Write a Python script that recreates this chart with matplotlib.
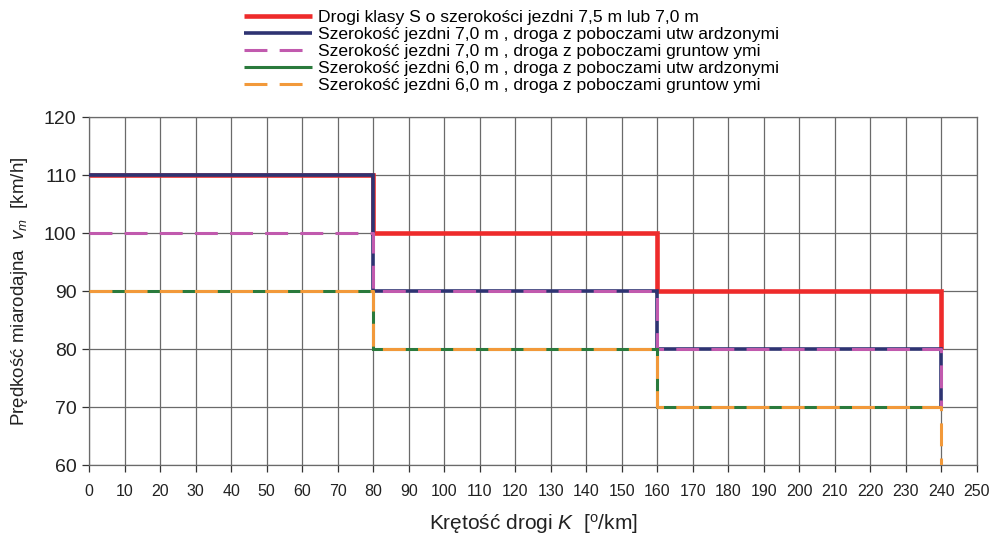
import matplotlib
matplotlib.use("Agg")
import matplotlib.pyplot as plt

plt.rcParams['font.family'] = ['Liberation Sans', 'DejaVu Sans']
plt.rcParams['mathtext.fontset'] = 'custom'
plt.rcParams['mathtext.it'] = 'Liberation Sans:italic'
plt.rcParams['mathtext.rm'] = 'Liberation Sans'

# Data
breaks = [0, 80, 160, 240]
labels = [
    "Drogi klasy S o szerokości jezdni 7,5 m lub 7,0 m",
    "Szerokość jezdni 7,0 m , droga z poboczami utw ardzonymi",
    "Szerokość jezdni 7,0 m , droga z poboczami gruntow ymi",
    "Szerokość jezdni 6,0 m , droga z poboczami utw ardzonymi",
    "Szerokość jezdni 6,0 m , droga z poboczami gruntow ymi",
]
speed_S = [110, 100, 90]
end_S = 80
speed_70_paved = [110, 90, 80]
end_70_paved = 70
speed_70_soft = [100, 90, 80]
end_70_soft = 70
speed_60_paved = [90, 80, 70]
end_60_paved = 70
speed_60_soft = [90, 80, 70]
end_60_soft = 60

x_ticks = list(range(0, 251, 10))
y_ticks = list(range(60, 121, 10))

def step_xy(levels, end):
    xs, ys = [], []
    for i, lv in enumerate(levels):
        xs += [breaks[i], breaks[i + 1]]
        ys += [lv, lv]
    xs.append(breaks[-1])
    ys.append(end)
    return xs, ys

fig = plt.figure(figsize=(9.93, 5.34), dpi=100)
ax = fig.add_axes([89/993, 1 - 465/534, (977 - 89)/993, (465 - 117)/534])

grid_c = '#6a6a6a'
for x in x_ticks:
    ax.axvline(x, color=grid_c, lw=0.9, zorder=1)
for y in y_ticks:
    ax.axhline(y, color=grid_c, lw=0.9, zorder=1)

styles = [
    dict(color='#ee2b2b', lw=3.3, ls='-'),
    dict(color='#2e3372', lw=2.6, ls='-'),
    dict(color='#c15aae', lw=2.2, ls=(0, (7.5, 4.0))),
    dict(color='#2a7a3c', lw=2.2, ls='-'),
    dict(color='#f2993a', lw=2.2, ls=(0, (7.5, 4.0))),
]
series = [
    (speed_S, end_S),
    (speed_70_paved, end_70_paved),
    (speed_70_soft, end_70_soft),
    (speed_60_paved, end_60_paved),
    (speed_60_soft, end_60_soft),
]
handles = []
for k, ((lv, end), st) in enumerate(zip(series, styles)):
    xs, ys = step_xy(lv, end)
    h, = ax.plot(xs, ys, color=st['color'], lw=st['lw'], linestyle=st['ls'],
                 solid_capstyle='butt', dash_capstyle='butt',
                 solid_joinstyle='miter', zorder=3 + k, label=labels[k])
    handles.append(h)

ax.set_xlim(0, 250)
ax.set_ylim(60, 120)
ax.set_xticks(x_ticks)
ax.set_yticks(y_ticks)
ax.tick_params(axis='x', labelsize=11.5, length=5, width=0.9, color='#333333',
               labelcolor='#222222', pad=9)
ax.tick_params(axis='y', labelsize=14, length=5, width=0.9, color='#333333',
               labelcolor='#222222', pad=4)
for s in ax.spines.values():
    s.set_color(grid_c)
    s.set_linewidth(0.9)

ax.set_xlabel(r'Krętość drogi $K$  [$^{\rm o}$/km]', fontsize=15, color='#222222', labelpad=9)
ax.set_ylabel(r'Prędkość miarodajna  $v_m$  [km/h]', fontsize=13.5, color='#222222', labelpad=10)

fig.legend(handles=handles, labels=labels, loc='upper left',
           bbox_to_anchor=(244/993, 1 - 10/534), frameon=False, fontsize=12.6,
           handlelength=3.9, handletextpad=0.3, labelspacing=0.1,
           borderpad=0, borderaxespad=0)

fig.savefig('out.png', dpi=100)
